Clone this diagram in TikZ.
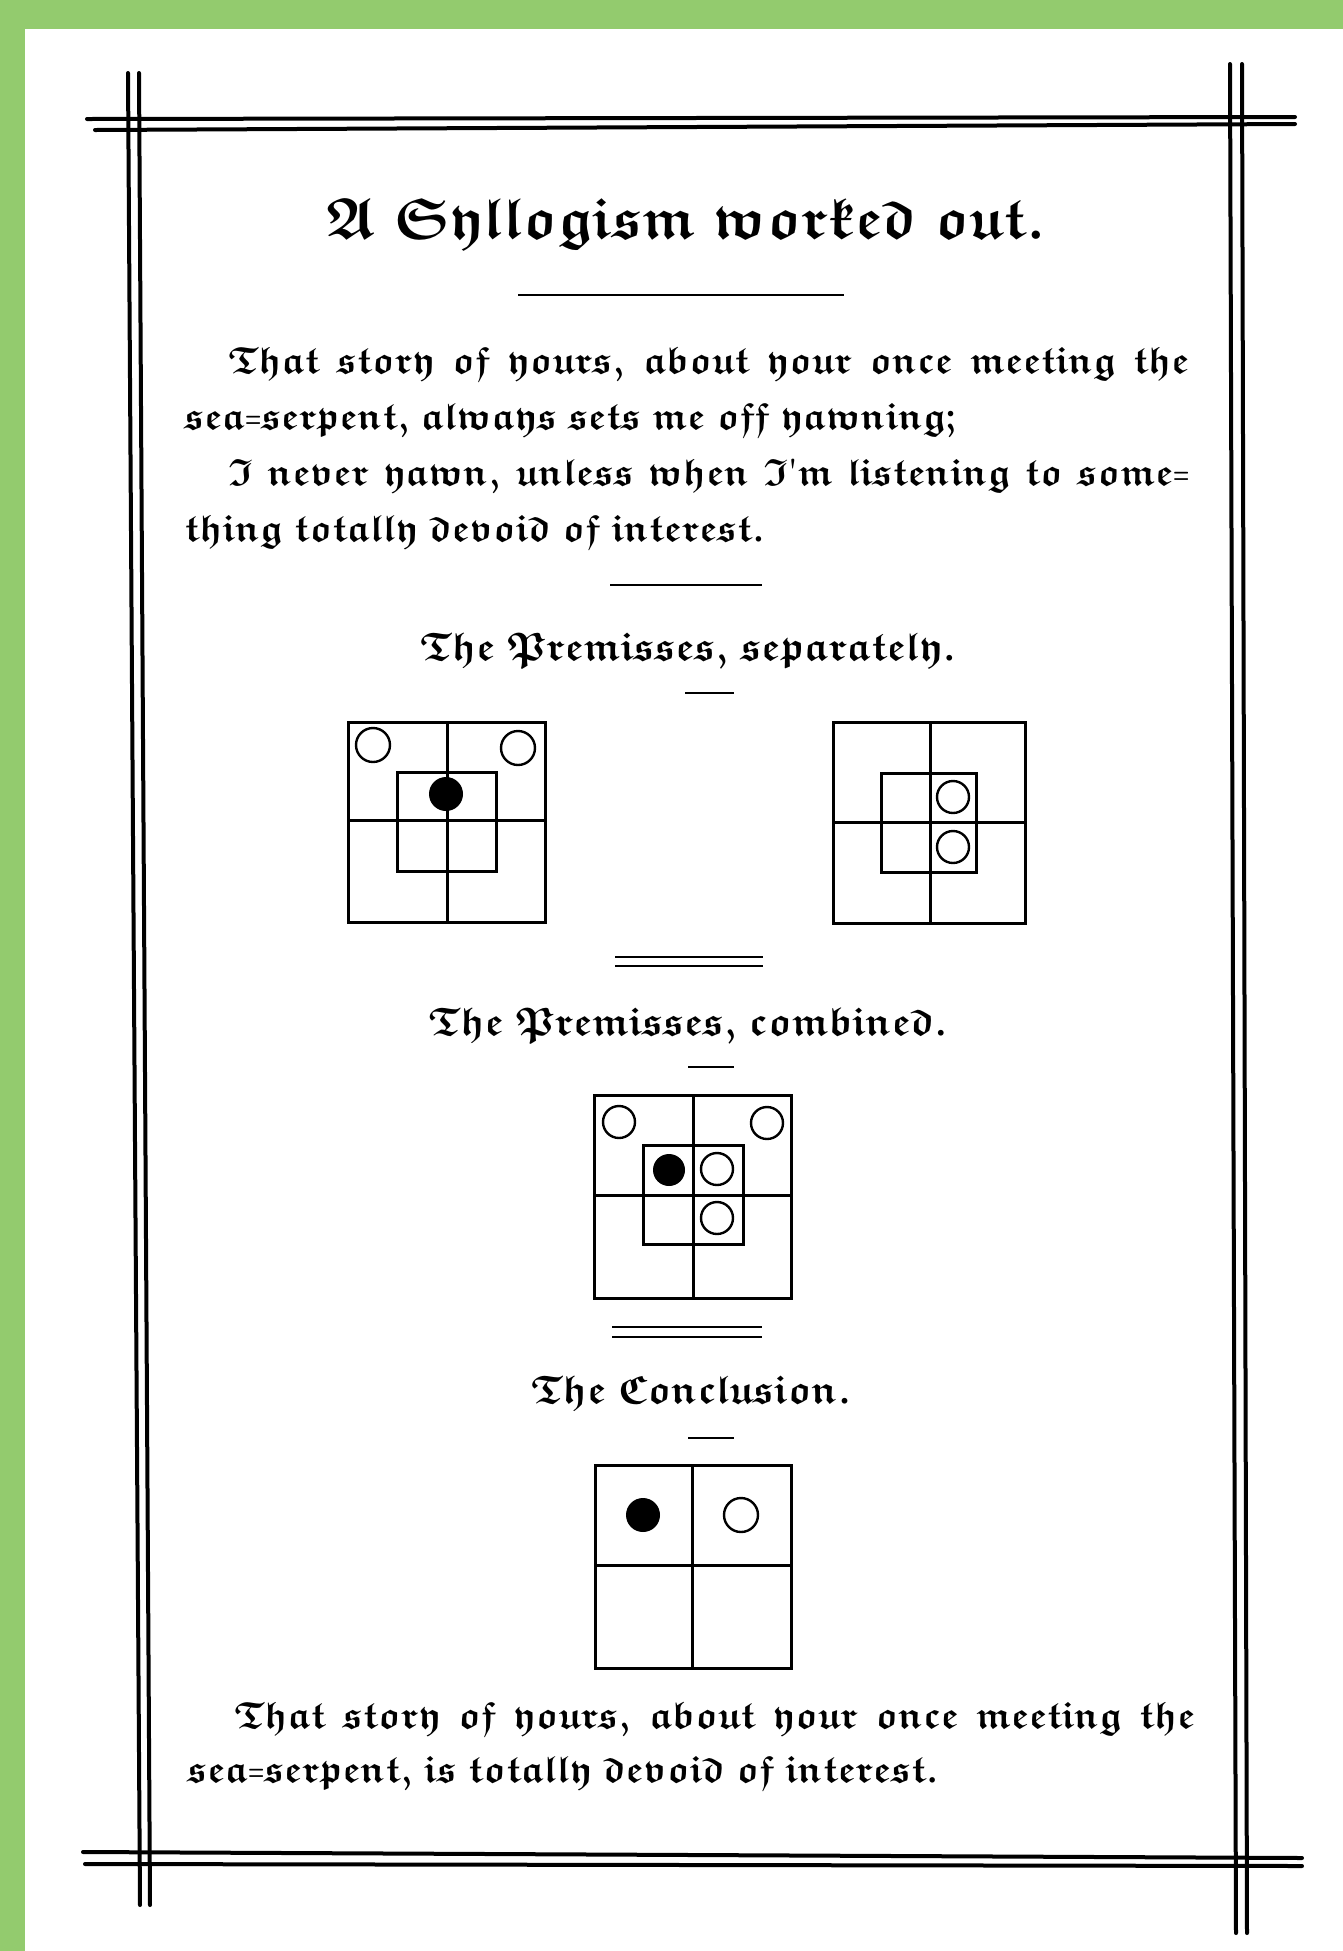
\documentclass[tikz,border=0pt]{standalone}
\definecolor{bggreen}{RGB}{147,203,110}
\newcommand\frk[1]{\fontsize{#1}{#1}\usefont{U}{euf}{b}{n}\spaceskip=0.3em plus 0.6em minus 0.05em\xspaceskip=\spaceskip}
\newcommand\dhy{{\usefont{TU}{lmr}{b}{n}\raisebox{0.05em}{\scalebox{0.55}[0.75]{=}}}}
\tikzset{
  frameline/.style={line width=2pt, line cap=round},
  rulel/.style={line width=1.4pt},
  cell/.style={line width=1.5pt},
  openc/.style={line width=1.2pt, draw, fill=white},
  fullc/.style={fill=black},
  body/.style={inner sep=0pt, font=\frk{19}},
  head/.style={inner sep=0pt, font=\frk{20}},
  titl/.style={inner sep=0pt, font=\frk{29}},
}
\begin{document}
\begin{tikzpicture}[x=0.5pt,y=-0.5pt]
\useasboundingbox (0,0) rectangle (1343,1951);
\fill[bggreen] (0,0) rectangle (1343,1951);
\fill[white] (25,29) rectangle (1343,1951);
% frame
\draw[frameline] (87,119) -- (1295,117);
\draw[frameline] (95,130) -- (1295,124);
\draw[frameline] (128,73) -- (140,1905);
\draw[frameline] (139,73) -- (150,1905);
\draw[frameline] (1230,64) -- (1236,1933);
\draw[frameline] (1242,64) -- (1247,1933);
\draw[frameline] (83,1852) -- (1302,1858);
\draw[frameline] (85,1864) -- (1302,1866);
% title
\node[titl, anchor=base] (title) at (686,238) {A Syllogism worked out.};
\draw[rulel] (518,295) -- (844,295);
% first paragraph
\node[body, anchor=base west] (p1) at (228,373) {\makebox[480.5pt][s]{That story of yours, about your once meeting the}};
\node[body, anchor=base west] (p2) at (184,429) {sea\dhy serpent, always sets me off yawning;};
\node[body, anchor=base west] (p3) at (228,485) {\makebox[480.5pt][s]{I never yawn, unless when I'm listening to some\dhy}};
\node[body, anchor=base west] (p4) at (184,541) {thing totally devoid of interest.};
\draw[rulel] (610,585) -- (762,585);
% premisses separately
\node[head, anchor=base] (h1) at (688,660) {The Premisses, separately.};
\draw[rulel] (685,693) -- (734,693);
% diagram 1
\draw[cell] (348,722) rectangle (545,922);
\draw[cell] (447,722) -- (447,922);
\draw[cell] (348,820) -- (545,820);
\draw[cell] (397,772) rectangle (496,871);
\path[openc] (373,745) circle[radius=8.5pt];
\path[openc] (518,748) circle[radius=8.5pt];
\path[fullc] (446,794) circle[radius=8.5pt];
% diagram 2
\draw[cell] (833,722) rectangle (1025,923);
\draw[cell] (930,722) -- (930,923);
\draw[cell] (833,822) -- (1025,822);
\draw[cell] (881,773) rectangle (976,872);
\path[openc] (953,797) circle[radius=8pt];
\path[openc] (953,847) circle[radius=8pt];
% double rule
\draw[rulel] (615,957) -- (763,957);
\draw[rulel] (615,966) -- (763,966);
% premisses combined
\node[head, anchor=base] (h2) at (688,1035) {The Premisses, combined.};
\draw[rulel] (688,1067) -- (734,1067);
% diagram 3
\draw[cell] (594,1095) rectangle (791,1298);
\draw[cell] (693,1095) -- (693,1298);
\draw[cell] (594,1195) -- (791,1195);
\draw[cell] (643,1145) rectangle (743,1244);
\path[openc] (619,1122) circle[radius=8pt];
\path[openc] (767,1123) circle[radius=8pt];
\path[fullc] (669,1170) circle[radius=8pt];
\path[openc] (717,1169) circle[radius=8pt];
\path[openc] (717,1218) circle[radius=8pt];
% double rule
\draw[rulel] (612,1327) -- (762,1327);
\draw[rulel] (612,1337) -- (762,1337);
% conclusion
\node[head, anchor=base] (h3) at (691,1403) {The Conclusion.};
\draw[rulel] (688,1438) -- (734,1438);
% diagram 4
\draw[cell] (595,1465) rectangle (791,1668);
\draw[cell] (692,1465) -- (692,1668);
\draw[cell] (595,1565) -- (791,1565);
\path[fullc] (643,1515) circle[radius=8.5pt];
\path[openc] (741,1515) circle[radius=8.5pt];
% final paragraph
\node[body, anchor=base west] (c1) at (234,1728) {\makebox[480.5pt][s]{That story of yours, about your once meeting the}};
\node[body, anchor=base west] (c2) at (187,1782) {sea\dhy serpent, is totally devoid of interest.};
\end{tikzpicture}
\end{document}
